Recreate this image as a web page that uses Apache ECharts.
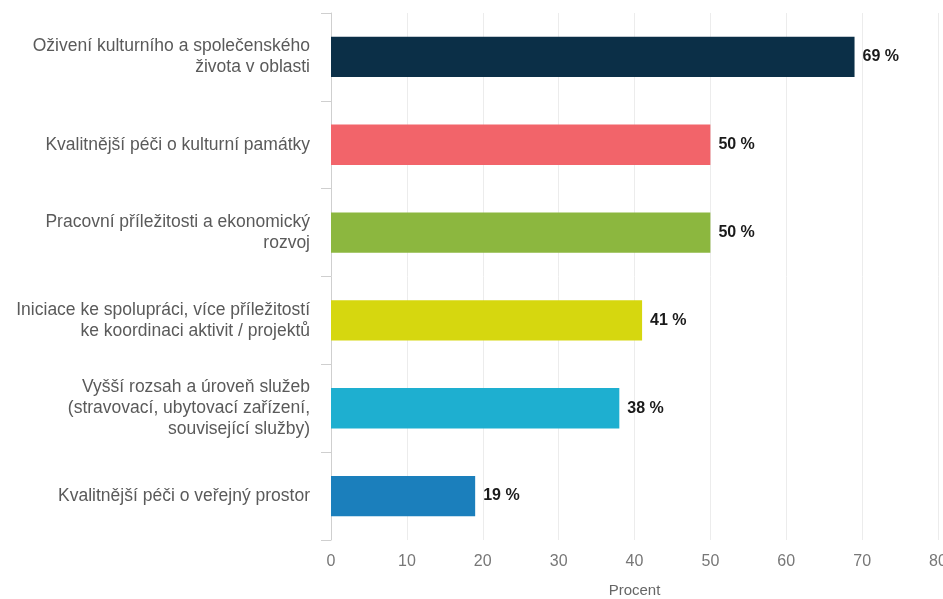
<!DOCTYPE html>
<html>
<head>
<meta charset="utf-8">
<script src="https://cdn.jsdelivr.net/npm/echarts@6/dist/echarts.min.js"></script>
<style>
  html, body { margin: 0; padding: 0; background: #fff; }
  #chart { width: 943px; height: 599px; }
</style>
</head>
<body>
<div id="chart"></div>
<script>
// Categories, top to bottom
const categories = [
  'Oživení kulturního a společenského\nživota v oblasti',
  'Kvalitnější péči o kulturní památky',
  'Pracovní příležitosti a ekonomický\nrozvoj',
  'Iniciace ke spolupráci, více příležitostí\nke koordinaci aktivit / projektů',
  'Vyšší rozsah a úroveň služeb\n(stravovací, ubytovací zařízení,\nsouvisející služby)',
  'Kvalitnější péči o veřejný prostor'
];
const values = [69, 50, 50, 41, 38, 19];
const barColors = ['#0b2f47', '#f2646a', '#8cb73f', '#d6d70f', '#1eafd0', '#1b7fbc'];
const axisTitle = 'Procent';

const font = '"Liberation Sans", Arial, sans-serif';

const chart = echarts.init(document.getElementById('chart'), null, { renderer: 'canvas' });
chart.setOption({
  animation: false,
  backgroundColor: '#fff',
  grid: {
    left: 331, right: 5, top: 13, bottom: 59,
    containLabel: false,
    outerBoundsMode: 'none'
  },
  xAxis: {
    type: 'value',
    min: 0,
    max: 80,
    interval: 10,
    name: axisTitle,
    nameLocation: 'middle',
    nameGap: 43,
    nameTextStyle: { color: '#666', fontSize: 15, fontFamily: font },
    axisLine: { show: false },
    axisTick: { show: false },
    axisLabel: { color: '#777', fontSize: 16, fontFamily: font, margin: 14 },
    splitLine: { show: true, lineStyle: { color: '#ececec', width: 1 } }
  },
  yAxis: {
    type: 'category',
    inverse: true,
    data: categories,
    axisLine: { show: true, lineStyle: { color: '#cfcfcf' } },
    axisTick: { show: true, length: 10, lineStyle: { color: '#cfcfcf' } },
    axisLabel: {
      color: '#5a5a5a',
      fontSize: 17.5,
      lineHeight: 21,
      fontFamily: font,
      margin: 21,
      align: 'right'
    }
  },
  series: [{
    type: 'bar',
    data: values.map((v, i) => ({ value: v, itemStyle: { color: barColors[i] } })),
    barCategoryGap: '54%',
    label: {
      show: true,
      position: 'right',
      distance: 8,
      formatter: '{c} %',
      color: '#1a1a1a',
      fontWeight: 'bold',
      fontSize: 16,
      fontFamily: font
    }
  }]
});
</script>
</body>
</html>
